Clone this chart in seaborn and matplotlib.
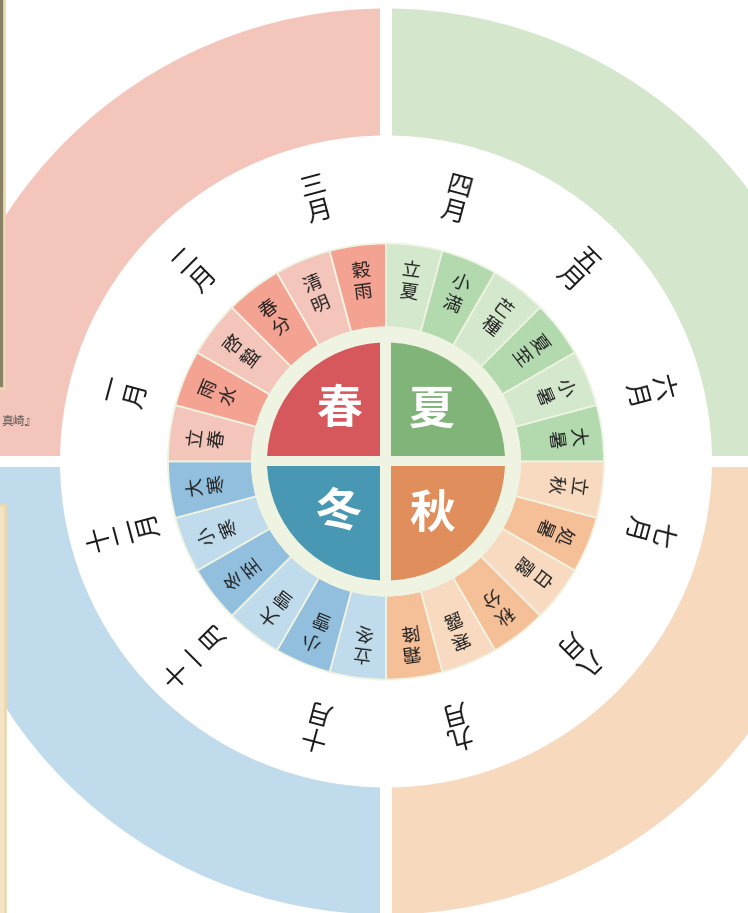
import numpy as np
import matplotlib
matplotlib.use("Agg")
import matplotlib.pyplot as plt
from matplotlib.patches import Wedge, Rectangle
import seaborn as sns

sns.set_theme(style="white")
plt.rcParams['font.family'] = ['Noto Sans CJK JP', 'DejaVu Sans']

# data
seasons = ['春', '夏', '秋', '冬']
season_colors = ['#D6585D', '#80B478', '#E08E5C', '#4897B3']
band_colors = ['#F4C6BB', '#D4E7CC', '#F7D9BE', '#C0DBEB']
term_light = ['#F4C6BB', '#D4E8CD', '#F8DAC0', '#C0DBEB']
term_dark = ['#F4A291', '#B2DAAE', '#F5BF97', '#91BFDD']
terms = ['立春', '雨水', '啓蟄', '春分', '清明', '穀雨',
         '立夏', '小満', '芒種', '夏至', '小暑', '大暑',
         '立秋', '処暑', '白露', '秋分', '寒露', '霜降',
         '立冬', '小雪', '大雪', '冬至', '小寒', '大寒']
months = ['一月', '二月', '三月', '四月', '五月', '六月',
          '七月', '八月', '九月', '十月', '十一月', '十二月']

cream = '#EFF3E1'

fig = plt.figure(figsize=(7.48, 9.13), dpi=100)
ax = fig.add_axes([0, 0, 1, 1])
ax.set_xlim(-386, 362)
ax.set_ylim(-451.5, 461.5)
ax.axis('off')

# outer band quadrants (start angles: spring top-left, summer top-right, ...)
quad_start = [90, 0, -90, 180]
for i in range(4):
    ax.add_patch(Wedge((0, 0), 453, quad_start[i], quad_start[i] + 90,
                       width=127, facecolor=band_colors[i], edgecolor='none'))
ax.add_patch(Rectangle((-6, -460), 12, 920, facecolor='white', edgecolor='none'))
ax.add_patch(Rectangle((-460, -5.5), 920, 11, facecolor='white', edgecolor='none'))

# solar term ring
for k, name in enumerate(terms):
    s = k // 6
    a1 = 180 - 15 * k
    a0 = a1 - 15
    col = term_light[s] if k % 2 == 0 else term_dark[s]
    ax.add_patch(Wedge((0, 0), 218, a0, a1, width=84, facecolor=col,
                       edgecolor=cream, linewidth=1.3))
    mid = np.deg2rad(a1 - 7.5)
    ax.text(181 * np.cos(mid), 181 * np.sin(mid), '\n'.join(name),
            rotation=np.rad2deg(mid) - 90, rotation_mode='anchor',
            ha='center', va='center', fontsize=13.5, linespacing=1.02,
            color='#222222')

# cream disk + season quadrants
ax.add_patch(Wedge((0, 0), 135, 0, 360, facecolor=cream, edgecolor='none'))
for i in range(4):
    ax.add_patch(Wedge((0, 0), 119, quad_start[i], quad_start[i] + 90,
                       facecolor=season_colors[i], edgecolor='none'))
ax.add_patch(Rectangle((-5.5, -125), 11, 250, facecolor=cream, edgecolor='none'))
ax.add_patch(Rectangle((-125, -5), 250, 10, facecolor=cream, edgecolor='none'))
season_pos = [(-47, 52), (46, 51), (46, -53), (-48, -51)]
for name, (x, y) in zip(seasons, season_pos):
    ax.text(x, y, name, ha='center', va='center', fontsize=33,
            color='white', fontweight='bold')

# month labels
for m, name in enumerate(months):
    ang = np.deg2rad(165 - 30 * m)
    ax.text(271 * np.cos(ang), 271 * np.sin(ang), '\n'.join(name),
            rotation=np.rad2deg(ang) - 90, rotation_mode='anchor',
            ha='center', va='center', fontsize=18.5, linespacing=1.0,
            color='#1A1A1A')

# fragments of neighbouring page at the left edge
ax.add_patch(Rectangle((-390, 74), 8, 392, facecolor='#8A8063', edgecolor='#EAD9B0',
                       linewidth=2))
ax.add_patch(Rectangle((-390, -455), 9, 412, facecolor='#F4E3C4', edgecolor='#EAD9B0',
                       linewidth=2))
ax.text(-385, 40, '真崎』', ha='left', va='center', fontsize=8.5, color='#555555')

fig.savefig('out.png', dpi=100)
